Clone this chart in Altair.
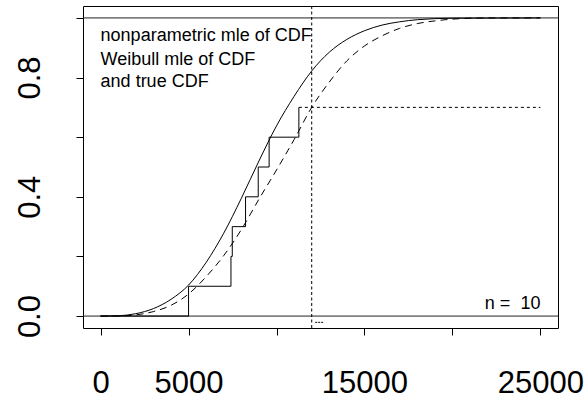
import altair as alt
import pandas as pd

# ---- data ----
# true CDF (solid curve)
true_x = [0, 1000, 2000, 3000, 4000, 5000, 6000, 7000, 8000, 9000, 10000, 11000,
          12000, 13000, 14000, 15000, 16000, 17000, 18000, 20000, 25000]
true_y = [0, 0.001, 0.008, 0.025, 0.056, 0.104, 0.18, 0.278, 0.395, 0.52, 0.638, 0.737,
          0.822, 0.885, 0.928, 0.957, 0.976, 0.987, 0.994, 0.999, 1.0]
# Weibull mle of CDF (dashed curve)
weib_x = [0, 1000, 2000, 3000, 4000, 5000, 6000, 7000, 8000, 9000, 10000, 11000,
          12000, 13000, 14000, 15000, 16000, 17000, 18000, 19000, 20000, 22000, 25000]
weib_y = [0, 0.0003, 0.004, 0.015, 0.036, 0.074, 0.132, 0.203, 0.29, 0.392, 0.49, 0.592,
          0.70, 0.785, 0.856, 0.906, 0.94, 0.965, 0.981, 0.99, 0.996, 1.0, 1.0]
# nonparametric mle (step function)
step_x = [0, 5000, 7410, 7485, 8240, 8960, 9580, 11270]
step_y = [0, 0.1, 0.2, 0.3, 0.4, 0.5, 0.6, 0.7]
# undefined part of the NPMLE (dotted)
tail_x, tail_x2, tail_y = [11270], [25000], [0.7]
# censoring time (vertical dotted)
cens_x = [12000]
# small mark below the axis
mark_x, mark_x2, mark_y = [12200], [12650], [-0.021]
# reference lines
hlines = [0.0, 1.0]

legend_lines = ["nonparametric mle of CDF", "Weibull mle of CDF", "and true CDF"]
legend_y = [0.922, 0.841, 0.767]
n_label = "n =\u00a0 10"

x_ticks = [0, 5000, 10000, 15000, 20000, 25000]
x_labelled = [0, 5000, 15000, 25000]
y_ticks = [0, 0.2, 0.4, 0.6, 0.8, 1.0]
y_labelled = [0, 0.4, 0.8]

XDOM = [-1000, 26000]
YDOM = [-0.04, 1.04]
FONT = "Liberation Sans"

xs = alt.Scale(domain=XDOM, nice=False, zero=False)
ys = alt.Scale(domain=YDOM, nice=False, zero=False)

xlab_expr = "indexof(" + str(x_labelled) + ", datum.value) >= 0 ? format(datum.value, 'd') : ''"
ylab_expr = ("(abs(datum.value - 0) < 1e-6 || abs(datum.value - 0.4) < 1e-6 || "
             "abs(datum.value - 0.8) < 1e-6) ? format(datum.value, '.1f') : ''")

x_axis = alt.Axis(values=x_ticks, labelExpr=xlab_expr, title=None, grid=False, domain=False,
                  tickSize=7, tickColor="black", labelFont=FONT, labelFontSize=31,
                  labelColor="black", labelBaseline="alphabetic", labelPadding=57,
                  labelOverlap=False, labelFlush=False)
y_axis = alt.Axis(values=y_ticks, labelExpr=ylab_expr, title=None, grid=False,
                  domain=False, tickSize=7, tickColor="black", labelFont=FONT, labelFontSize=31,
                  labelColor="black", labelAngle=270, labelAlign="center",
                  labelBaseline="alphabetic", labelPadding=37, labelOverlap=False, labelFlush=False)

true_df = pd.DataFrame({"x": true_x, "y": true_y})
weib_df = pd.DataFrame({"x": weib_x, "y": weib_y})
step_df = pd.DataFrame({"x": step_x, "y": step_y})

base_x = alt.X("x:Q", scale=xs, axis=x_axis)
base_y = alt.Y("y:Q", scale=ys, axis=y_axis)

true_line = alt.Chart(true_df).mark_line(color="black", strokeWidth=1, interpolate="monotone").encode(
    x=base_x, y=base_y)
weib_line = alt.Chart(weib_df).mark_line(color="black", strokeWidth=1, strokeDash=[7, 5],
                                         interpolate="monotone").encode(
    x=alt.X("x:Q", scale=xs), y=alt.Y("y:Q", scale=ys))
step_line = alt.Chart(step_df).mark_line(color="black", strokeWidth=1, interpolate="step-after").encode(
    x=alt.X("x:Q", scale=xs), y=alt.Y("y:Q", scale=ys))

tail = alt.Chart(pd.DataFrame({"x": tail_x, "x2": tail_x2, "y": tail_y})).mark_rule(
    color="black", strokeWidth=1, strokeDash=[3, 3]).encode(
    x=alt.X("x:Q", scale=xs), x2="x2:Q", y=alt.Y("y:Q", scale=ys))

cens = alt.Chart(pd.DataFrame({"x": cens_x, "y": [YDOM[0]], "y2": [YDOM[1]]})).mark_rule(
    color="black", strokeWidth=1, strokeDash=[3, 2.5]).encode(
    x=alt.X("x:Q", scale=xs), y=alt.Y("y:Q", scale=ys), y2="y2:Q")

small = alt.Chart(pd.DataFrame({"x": mark_x, "x2": mark_x2, "y": mark_y})).mark_rule(
    color="black", strokeWidth=1, strokeDash=[2, 1]).encode(
    x=alt.X("x:Q", scale=xs), x2="x2:Q", y=alt.Y("y:Q", scale=ys))

hl = alt.Chart(pd.DataFrame({"y": hlines, "x": [XDOM[0]] * 2, "x2": [XDOM[1]] * 2})).mark_rule(
    color="#222222", strokeWidth=1).encode(
    x=alt.X("x:Q", scale=xs), x2="x2:Q", y=alt.Y("y:Q", scale=ys))

leg = alt.Chart(pd.DataFrame({"t": legend_lines, "y": legend_y, "x": [0] * 3})).mark_text(
    align="left", baseline="alphabetic", font=FONT, fontSize=18, color="black").encode(
    x=alt.X("x:Q", scale=xs), y=alt.Y("y:Q", scale=ys), text="t:N")

nlab = alt.Chart(pd.DataFrame({"t": [n_label], "x": [25000], "y": [0.025]})).mark_text(
    align="right", baseline="alphabetic", font=FONT, fontSize=18, color="black").encode(
    x=alt.X("x:Q", scale=xs), y=alt.Y("y:Q", scale=ys), text="t:N")

chart = alt.layer(hl, cens, tail, small, true_line, weib_line, step_line, leg, nlab).properties(
    width=475, height=322,
    autosize=alt.AutoSizeParams(type="none"),
    padding={"left": 83, "top": 6, "right": 28, "bottom": 74},
    background="white",
).configure_view(stroke="black", strokeWidth=1)

chart.save("out.html", embed_options={"renderer": "svg", "actions": False})
